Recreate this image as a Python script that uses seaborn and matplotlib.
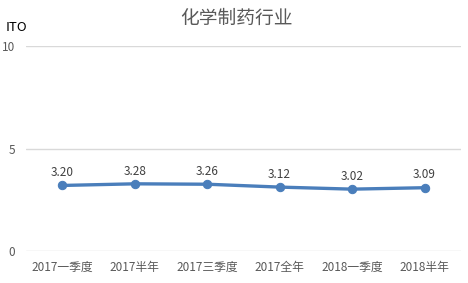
import matplotlib
matplotlib.use("Agg")
import matplotlib.pyplot as plt
import seaborn as sns
import pandas as pd

periods = ["2017一季度", "2017半年", "2017三季度", "2017全年", "2018一季度", "2018半年"]
ito = [3.20, 3.28, 3.26, 3.12, 3.02, 3.09]
y_ticks = [0, 5, 10]

sns.set_theme(style="white")
plt.rcParams["font.family"] = ["Noto Sans CJK SC", "DejaVu Sans"]

df = pd.DataFrame({"period": periods, "ito": ito})

fig = plt.figure(figsize=(4.68, 2.83), dpi=100)
ax = fig.add_axes([0.0556, 0.113, 0.929, 0.724])

sns.lineplot(data=df, x="period", y="ito", ax=ax, color="#4a7ebb",
             linewidth=2.4, marker="o", markersize=6,
             markeredgecolor="#4a7ebb", sort=False)

for i, v in enumerate(ito):
    ax.annotate(f"{v:.2f}", (i, v), xytext=(0, 4.5), textcoords="offset points",
                ha="center", va="bottom", fontsize=8.5, color="#404040")

ax.set_xlim(-0.5, len(periods) - 0.5)
ax.set_ylim(0, 10)
ax.set_yticks(y_ticks)
ax.yaxis.grid(True, color="#d9d9d9", linewidth=1)
ax.set_axisbelow(True)
for s in ax.spines.values():
    s.set_visible(False)
ax.tick_params(axis="both", length=0, labelsize=8.5, labelcolor="#595959")
ax.tick_params(axis="x", pad=7)
ax.tick_params(axis="y", pad=8)
ax.set_xlabel("")
ax.set_ylabel("")

fig.text(0.505, 0.935, "化学制药行业", ha="center", va="center",
         fontsize=13.5, color="#595959")
fig.text(0.012, 0.902, "ITO", ha="left", va="center", fontsize=9.5, color="black")

fig.savefig("out.png", dpi=100)
